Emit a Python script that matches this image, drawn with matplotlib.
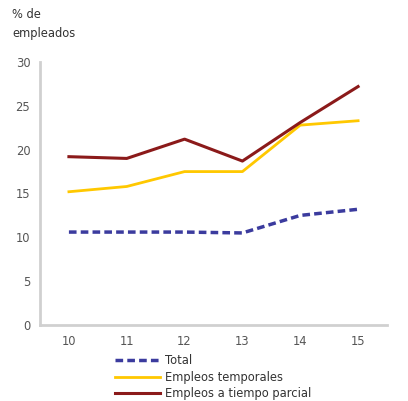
import matplotlib
matplotlib.use("Agg")
import matplotlib.pyplot as plt
from matplotlib.lines import Line2D

years = ["10", "11", "12", "13", "14", "15"]
total = [10.6, 10.6, 10.6, 10.5, 12.5, 13.2]
temporales = [15.2, 15.8, 17.5, 17.5, 22.8, 23.3]
tiempo_parcial = [19.2, 19.0, 21.2, 18.7, 23.1, 27.2]
yticks = [0, 5, 10, 15, 20, 25, 30]

fs = 8.3
fig = plt.figure(figsize=(4.08, 4.01), dpi=100)
ax = fig.add_axes([40/408, 1-325/401, 347/408, 263/401])
x = list(range(len(years)))
ax.plot(x, total, color="#3b3b9e", lw=2.5, ls=(0, (2.2, 1.2)))
ax.plot(x, temporales, color="#ffc800", lw=2)
ax.plot(x, tiempo_parcial, color="#8b1a1a", lw=2.2)
ax.set_xlim(-0.5, len(years)-0.5)
ax.set_ylim(0, 30)
ax.set_yticks(yticks)
ax.set_xticks(x)
ax.set_xticklabels(years)
for s in ["top", "right"]:
    ax.spines[s].set_visible(False)
for s in ["left", "bottom"]:
    ax.spines[s].set_color("#d0d0d0")
    ax.spines[s].set_linewidth(2)
ax.tick_params(length=0, labelsize=fs, colors="#555555", pad=7)
fig.text(12/408, 1-24/401, "% de\nempleados", fontsize=fs, color="#333333", va="center", ha="left", linespacing=1.7)

handles = [Line2D([], [], color="#3b3b9e", lw=2.5, ls=(0, (2.2, 1.2))),
           Line2D([], [], color="#ffc800", lw=2),
           Line2D([], [], color="#8b1a1a", lw=2.2)]
labels = ["Total", "Empleos temporales", "Empleos a tiempo parcial"]
fig.legend(handles, labels, loc="upper left", bbox_to_anchor=(115/408, 1-354/401),
           frameon=False, fontsize=fs, handlelength=3.9, labelspacing=0.32, borderaxespad=0,
           borderpad=0, handletextpad=0.45, labelcolor="#333333")
fig.savefig("out.png", dpi=100)
